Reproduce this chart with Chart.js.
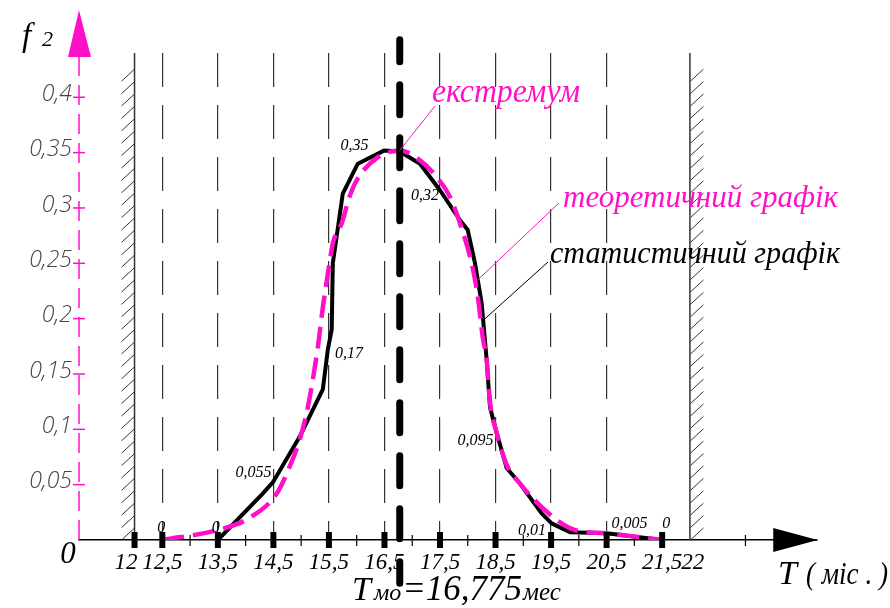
<!DOCTYPE html>
<html>
<head>
<meta charset="utf-8">
<script src="https://cdn.jsdelivr.net/npm/chart.js@4.4.1/dist/chart.umd.min.js"></script>
<style>
  html, body { margin: 0; padding: 0; background: #fff; }
  canvas { display: block; }
</style>
</head>
<body>
<canvas id="myChart" width="890" height="608"></canvas>
<script>
// --- дані ---
const xTickValues = [12, 12.5, 13.5, 14.5, 15.5, 16.5, 17.5, 18.5, 19.5, 20.5, 21.5, 22];
const yTickValues = [0, 0.05, 0.1, 0.15, 0.2, 0.25, 0.3, 0.35, 0.4];
const gridT = [12.5, 13.5, 14.5, 15.5, 16.5, 17.5, 18.5, 19.5, 20.5];
const markerT = [12, 12.5, 13.5, 14.5, 15.5, 16.5, 17.5, 18.5, 19.5, 20.5, 21.5];
const minorT = [13, 14, 15, 16, 17, 18, 19, 20, 21, 23];

// статистичний графік
const statT = [13.5, 14.29, 14.49, 14.97, 15.39, 15.48, 15.55, 15.57, 15.75, 16.02, 16.5, 16.775, 17.14, 17.5, 17.86, 18.0, 18.13, 18.25, 18.34, 18.4, 18.52, 18.7, 18.94, 19.33, 19.51, 19.84, 20.5, 21.5];
const statF = [0, 0.041, 0.052, 0.093, 0.136, 0.172, 0.19, 0.25, 0.313, 0.34, 0.352, 0.351, 0.34, 0.316, 0.289, 0.28, 0.25, 0.214, 0.163, 0.12, 0.097, 0.065, 0.051, 0.024, 0.015, 0.007, 0.006, 0];

// теоретичний графік
const theoT = [12.5, 13.5, 14.07, 14.56, 14.79, 14.97, 15.12, 15.3, 15.39, 15.51, 15.57, 15.73, 15.87, 16.0, 16.36, 16.775, 17.14, 17.44, 17.68, 17.9, 18.07, 18.18, 18.27, 18.34, 18.4, 18.52, 18.7, 18.94, 19.48, 19.93, 20.5, 21.5];
const theoF = [0, 0.009, 0.02, 0.042, 0.066, 0.09, 0.12, 0.174, 0.21, 0.25, 0.268, 0.286, 0.31, 0.325, 0.345, 0.352, 0.343, 0.328, 0.31, 0.28, 0.25, 0.22, 0.183, 0.163, 0.125, 0.097, 0.068, 0.051, 0.023, 0.009, 0.006, 0];

const modeT = 16.775; // мода
const modeF = 0.352;

// підписи точок
const labelT = [12.5, 13.5, 14.5, 15.5, 16.5, 17.5, 18.5, 19.5, 20.5, 21.5];
const labelF = [0, 0, 0.055, 0.17, 0.35, 0.32, 0.095, 0.01, 0.005, 0];
const labelText = ['0', '0', '0,055', '0,17', '0,35', '0,32', '0,095', '0,01', '0,005', '0'];

const MAGENTA = '#ff10c8';
const SERIF = '"Liberation Serif", "DejaVu Serif", serif';

// зсуви підписів (вирівнювання, dx, dy)
const labelPlace = [
  ['center', -1, -8], ['center', -2, -8], ['right', -2, -2], ['left', 6, 6],
  ['right', -16, -3], ['right', -1, 14], ['right', -2, 10], ['right', -5, 6],
  ['left', 5, -6], ['left', 0, -12]
];

const toXY = (ts, fs) => ts.map((t, i) => ({ x: t, y: fs[i] }));

function line(ctx, x1, y1, x2, y2) {
  ctx.beginPath();
  ctx.moveTo(x1, y1);
  ctx.lineTo(x2, y2);
  ctx.stroke();
}

// малюємо рамки, стрілки і тексти
const decor = {
  id: 'decor',
  beforeDatasetsDraw(chart) {
    const { ctx, chartArea: a, scales: { x, y } } = chart;
    const y0 = y.getPixelForValue(0);
    ctx.save();

    // стінки зі штриховкою
    [12, 22].forEach((t, i) => {
      const px = x.getPixelForValue(t);
      ctx.strokeStyle = '#333';
      ctx.lineWidth = 1.5;
      line(ctx, px, a.top, px, y0);
      ctx.lineWidth = 1;
      const sx = i === 0 ? px - 13 : px + 0.5;
      for (let yy = y0; yy > a.top + 22; yy -= 12.4) {
        line(ctx, sx, yy, sx + 13, yy - 12);
      }
    });

    // дрібні поділки на осі T
    ctx.strokeStyle = '#000';
    ctx.lineWidth = 1.2;
    minorT.forEach(t => {
      const px = x.getPixelForValue(t);
      line(ctx, px, y0 - 5, px, y0 + 6);
    });

    // стрілка осі T
    const ax = x.getPixelForValue(23.5), tip = x.getPixelForValue(24.3);
    ctx.lineWidth = 1.5;
    line(ctx, a.right - 2, y0, tip, y0);
    ctx.fillStyle = '#000';
    ctx.beginPath();
    ctx.moveTo(ax, y0 - 12);
    ctx.lineTo(tip, y0);
    ctx.lineTo(ax, y0 + 12);
    ctx.closePath();
    ctx.fill();

    // вісь f2 (рожева, штрихова)
    const lx = a.left;
    ctx.strokeStyle = MAGENTA;
    ctx.lineWidth = 1.5;
    ctx.setLineDash([20, 9]);
    line(ctx, lx, y0, lx, 57);
    ctx.setLineDash([]);
    yTickValues.forEach(v => {
      if (v === 0) return;
      const py = y.getPixelForValue(v);
      line(ctx, lx - 6, py, lx + 6, py);
    });
    ctx.fillStyle = MAGENTA;
    ctx.beginPath();
    ctx.moveTo(lx - 11, 57);
    ctx.lineTo(lx, 10);
    ctx.lineTo(lx + 12, 57);
    ctx.closePath();
    ctx.fill();

    ctx.restore();
  },
  afterDatasetsDraw(chart) {
    const { ctx, scales: { x, y } } = chart;
    ctx.save();

    // підписи значень
    ctx.fillStyle = '#000';
    ctx.font = 'italic 16px ' + SERIF;
    ctx.textBaseline = 'alphabetic';
    labelT.forEach((t, i) => {
      const [al, dx, dy] = labelPlace[i];
      ctx.textAlign = al;
      ctx.fillText(labelText[i], x.getPixelForValue(t) + dx, y.getPixelForValue(labelF[i]) + dy);
    });

    // виноски
    ctx.textAlign = 'left';
    ctx.lineWidth = 1;
    ctx.strokeStyle = MAGENTA;
    line(ctx, x.getPixelForValue(modeT), y.getPixelForValue(modeF), 435, 106);
    line(ctx, x.getPixelForValue(18.18), y.getPixelForValue(0.235), 559, 203);
    ctx.strokeStyle = '#000';
    line(ctx, x.getPixelForValue(18.29), y.getPixelForValue(0.199), 548, 262);

    ctx.fillStyle = MAGENTA;
    ctx.font = 'italic 34px ' + SERIF;
    ctx.fillText('екстремум', 432, 102, 148);
    ctx.font = 'italic 31px ' + SERIF;
    ctx.fillText('теоретичний графік', 563, 207, 276);
    ctx.fillStyle = '#000';
    ctx.fillText('статистичний графік', 550, 263, 290);

    // f2
    ctx.font = 'italic 33px ' + SERIF;
    ctx.fillText('f', 22, 46);
    ctx.font = 'italic 22px ' + SERIF;
    ctx.fillText('2', 42, 46);

    // нуль
    ctx.textAlign = 'center';
    ctx.font = 'italic 31px ' + SERIF;
    ctx.fillText('0', 68, 563);

    // T мо = 16,775 мес
    ctx.textAlign = 'left';
    let cx = 352;
    const parts = [['T', 34], ['мо', 24], ['=16,775', 35], ['мес', 25]];
    parts.forEach(([s, sz], i) => {
      ctx.font = 'italic ' + sz + 'px ' + SERIF;
      ctx.fillText(s, cx, 600);
      cx += ctx.measureText(s).width + (i === 0 ? 3 : 1);
    });

    // підпис осі T
    ctx.font = 'italic 34px ' + SERIF;
    ctx.fillText('T', 778, 584);
    ctx.font = 'italic 31px ' + SERIF;
    ctx.fillText('( міс . )', 806, 584, 82);

    ctx.restore();
  }
};

const chart = new Chart(document.getElementById('myChart'), {
  type: 'scatter',
  data: {
    datasets: [
      {
        label: 'Tмо',
        data: [{ x: modeT, y: -0.039 }, { x: modeT, y: 0.452 }],
        showLine: true,
        borderColor: '#000',
        borderWidth: 7,
        borderDash: [30, 23],
        borderDashOffset: 8.5,
        borderCapStyle: 'round',
        pointRadius: 0,
        clip: false,
        order: 0
      },
      {
        label: 'інтервали',
        data: markerT.map(t => ({ x: t, y: 0 })),
        showLine: false,
        pointStyle: 'line',
        rotation: 90,
        pointRadius: 8,
        pointBorderWidth: 6,
        pointBorderColor: '#000',
        borderColor: '#000',
        clip: false,
        order: 1
      },
      {
        label: 'теоретичний графік',
        data: toXY(theoT, theoF),
        showLine: true,
        borderColor: MAGENTA,
        borderWidth: 4.5,
        borderDash: [22, 9],
        cubicInterpolationMode: 'monotone',
        pointRadius: 0,
        order: 2
      },
      {
        label: 'статистичний графік',
        data: toXY(statT, statF),
        showLine: true,
        borderColor: '#000',
        borderWidth: 4,
        borderJoinStyle: 'round',
        tension: 0,
        pointRadius: 0,
        order: 3
      }
    ]
  },
  options: {
    responsive: false,
    animation: false,
    events: [],
    layout: { padding: { top: 53, right: 89, left: 0, bottom: 0 } },
    plugins: {
      legend: { display: false },
      tooltip: { enabled: false }
    },
    scales: {
      x: {
        type: 'linear',
        min: 11,
        max: 24,
        afterBuildTicks: s => { s.ticks = xTickValues.map(v => ({ value: v })); },
        afterFit: s => { s.height = 68; },
        ticks: {
          autoSkip: false,
          maxRotation: 0,
          minRotation: 0,
          padding: 9,
          color: '#000',
          font: { family: SERIF, style: 'italic', size: 23 },
          callback: v => {
            const s = String(v).replace('.', ',');
            if (v === 12) return s + '   ';
            if (v === 22) return ' ' + s;
            return s;
          }
        },
        grid: {
          drawTicks: false,
          lineWidth: 1.2,
          color: c => (c.tick && gridT.includes(c.tick.value)) ? '#333' : 'rgba(0,0,0,0)'
        },
        border: { display: true, color: '#000', width: 1.5, dash: [34, 18] }
      },
      y: {
        type: 'linear',
        min: 0,
        max: 0.44,
        afterBuildTicks: s => { s.ticks = yTickValues.map(v => ({ value: v })); },
        afterFit: s => { s.width = 79; },
        ticks: {
          padding: 7,
          labelOffset: -3,
          color: '#444',
          font: { family: '"Open Sans", "DejaVu Sans", sans-serif', style: 'italic', weight: 300, size: 23 },
          callback: v => v === 0 ? '' : String(v).replace('.', ',')
        },
        grid: { display: false, drawTicks: false },
        border: { display: false }
      }
    }
  },
  plugins: [decor]
});
</script>
</body>
</html>
